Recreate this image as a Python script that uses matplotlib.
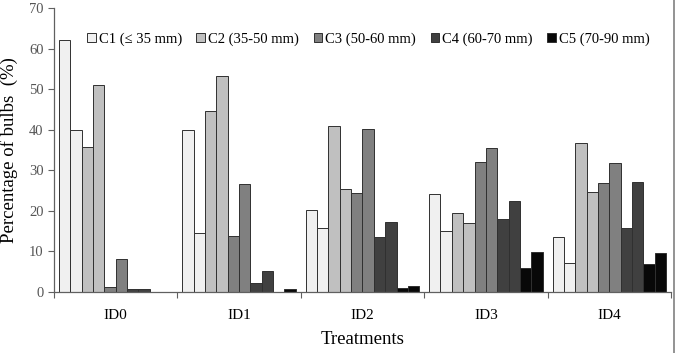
import matplotlib
matplotlib.use("Agg")
import matplotlib.pyplot as plt
import numpy as np

treatments = ["ID0", "ID1", "ID2", "ID3", "ID4"]
classes = ["C1 (\u2264 35 mm)", "C2 (35-50 mm)", "C3 (50-60 mm)", "C4 (60-70 mm)", "C5 (70-90 mm)"]
# two bars per class (a, b) for each treatment
c1a = [62.2, 40.0, 20.3, 24.2, 13.6]
c1b = [40.0, 14.5, 15.8, 15.1, 7.1]
c2a = [35.7, 44.5, 41.0, 19.4, 36.7]
c2b = [51.1, 53.2, 25.5, 17.1, 24.7]
c3a = [1.3, 13.7, 24.5, 32.1, 26.8]
c3b = [8.2, 26.5, 40.1, 35.4, 31.7]
c4a = [0.7, 2.1, 13.5, 18.1, 15.8]
c4b = [0.7, 5.2, 17.2, 22.5, 27.2]
c5a = [0.0, 0.0, 1.0, 6.0, 6.8]
c5b = [0.0, 0.7, 1.4, 9.8, 9.5]

series = [c1a, c1b, c2a, c2b, c3a, c3b, c4a, c4b, c5a, c5b]
colors = ["#f0f0f0", "#c0c0c0", "#808080", "#404040", "#080808"]

plt.rcParams['font.family'] = ['Liberation Serif', 'DejaVu Serif']

fig = plt.figure(figsize=(6.78, 3.53), dpi=100)
ax = fig.add_axes([0.0796, 0.1728, 0.9101, 0.8045])

w = 0.092
off = (1 - 10 * w) / 2
x = np.arange(len(treatments))
handles = []
for i, s in enumerate(series):
    col = colors[i // 2]
    b = ax.bar(x + off + i * w, s, width=w, align='edge', color=col,
               edgecolor="#303030", linewidth=0.7)
    if i % 2 == 0:
        handles.append(b)

ax.set_xlim(0, 5)
ax.set_ylim(0, 70)
ax.set_yticks(np.arange(0, 71, 10))
ax.set_xticks(np.arange(0, 6))
ax.set_xticklabels([])
ax.set_xticks(x + 0.5, minor=True)
ax.set_xticklabels(treatments, minor=True, fontsize=11)
ax.tick_params(axis='x', which='minor', length=0, pad=12)
ax.tick_params(axis='x', which='major', length=4, direction='out', color="#606060")
ax.tick_params(axis='y', length=4, direction='out', color="#606060", labelcolor="#555555", labelsize=10.5)
for sp in ["top", "right"]:
    ax.spines[sp].set_visible(False)
for sp in ["left", "bottom"]:
    ax.spines[sp].set_color("#606060")
    ax.spines[sp].set_linewidth(0.9)

ax.set_ylabel("Percentage of bulbs  (%)", fontsize=13.5, labelpad=8)
ax.set_xlabel("Treatments", fontsize=13.5, labelpad=7)

ax.legend(handles, classes, ncol=5, loc='upper right', bbox_to_anchor=(0.975, 0.935),
          frameon=False, fontsize=10.5, handlelength=0.6, handleheight=0.6,
          handletextpad=0.2, columnspacing=1.0, borderaxespad=0)

fig.add_artist(plt.Line2D([0.994, 0.994], [0, 1], transform=fig.transFigure,
                          color="#808080", linewidth=1.2))

fig.savefig("out.png", dpi=100)
